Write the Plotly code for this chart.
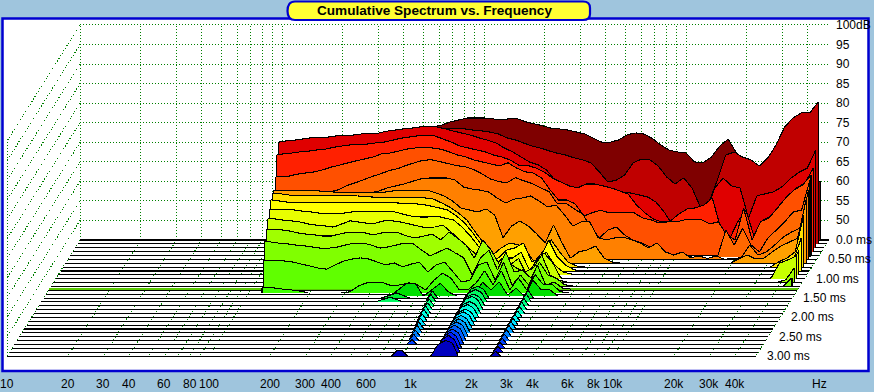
import math
import plotly.graph_objects as go

TITLE = "Cumulative Spectrum vs. Frequency"
FREQ_BINS_HZ = [100,110,121,133,147,162,178,196,215,237,261,287,316,348,383,422,464,511,562,619,681,750,825,909,
    1000,1101,1212,1334,1468,1616,1778,1957,2154,2371,2610,2873,3162,3481,3831,4217,4642,5109,5623,6190,6813,7499,8254,9085,
    10000,11007,12115,13335,14678,16156,17783,19573,21544,23714,26102,28730,31623,34807,38312,42170,46416]
FLOOR_DB = 45.0
TOP_DB = 100.0
FREQ_MIN_HZ, FREQ_MAX_HZ = 10, 51000
TIME_MAX_MS = 3.0
TICK_HZ = [10,20,30,40,60,80,100,200,300,400,600,1000,2000,3000,4000,6000,8000,10000,20000,30000,40000]
TICK_LABELS = ["10","20","30","40","60","80","100","200","300","400","600","1k","2k","3k","4k","6k","8k","10k","20k","30k","40k"]
GRID_HZ = [10,20,30,40,50,60,70,80,90,100,200,300,400,500,600,700,800,900,1000,2000,3000,4000,5000,6000,7000,8000,9000,
           10000,20000,30000,40000]
DB_TICKS = [100,95,90,85,80,75,70,65,60,55,50]
DB_LABELS = ["100dB","95","90","85","80","75","70","65","60","55","50"]
TIME_TICKS = [0.0,0.5,1.0,1.5,2.0,2.5,3.0]
TIME_LABELS = ["0.0 ms","0.50 ms","1.00 ms","1.50 ms","2.00 ms","2.50 ms","3.00 ms"]
FLOOR_ROWS_MS = [n/10 for n in range(31)]
GREEN_ROW_MS = 1.27

# Surface slices: first bin index -> levels in dB; bins not listed sit on the floor.
level_00 = {0:[67,67.3,67.5,67.8,68,68.3,68.5,68.8,69,69.3,69.6,69.9,70.2,70.6,71,71.5,72,73,73.9,74.4,75.2,75.7,76.2,76.2,76.2,76,75.7,76,76,75.2,74.7,74.2,73.6,73.4,73.1,72.6,72.1,71,70,70,70.6,71.9,72.4,72.1,71,69.3,68,67.5,67.3,65,64.7,66.2,69,70.8,67.3,60,60,60,60,60,60,60,60,60,60]}
level_01 = {0:[70,70.3,70.5,70.8,71,71.2,71.4,71.6,71.8,72,72.2,72.4,72.7,73,73.3,73.6,74,74.4,74.9,74.6,74.6,74.4,74.4,74.1,73.9,73.6,73.1,72.1,71.6,70.8,70,69.5,68.8,68.2,67.7,67,66.5,65.7,63.4,60.8,61.3,62.6,65.7,66.7,66.5,64.9,62.1,60.3,61.9,59.3,54.4,55.5,61.3,67.7,68.5,67.2,66.5,64.9,67,70.3,74.9,77.2,78.5,78.5,81.3]}
level_02 = {0:[72,72.3,72.5,72.8,73.1,73.3,73.3,73.6,73.8,73.8,74.1,74.3,74.3,74.8,75.1,75.4,75.6,75.9,75.9,75.9,75.4,74.8,74.3,73.8,73.1,72.5,71.8,70.5,69.5,68.2,66.9,66.2,64.9,62.3,59.8,58.5,58.5,59.2,58.5,58.5,59,59.2,59,58.5,58,56.7,54.1,50.8,50.8,50.8,50.8,54.6,60.3,62.8,60.8,60.3,52.6,58.3,58.8,59.3,60.6,62.7,64.3,65.4,70]}
level_03 = {0:[69.7,70,70.2,70.5,70.7,71,71.2,71.7,72,72.3,72.5,72.5,72.8,73,73.5,74,74.3,74.6,74.6,74.6,73.8,73,72,71.5,71,70.5,69.7,69.2,68.4,67.1,67.1,66.4,65.4,63.8,62.8,61.8,61.3,62.3,62.3,61.8,61.3,60.5,59.7,56.9,54.9,53.3,52.6,52.8,54.6,55.9,56.2,56.9,58.7,50.8,48,52.6,55.6,48.5,53.1,54.1,56.9,59.2,61.3,62.5,66.4]}
level_04 = {1:[65.1,65.3,65.8,66.1,66.4,66.9,67.6,68.1,68.7,69.2,69.7,70.2,71,71.2,71.7,72.2,72.5,72.7,72.5,72.2,71.5,70.7,70.2,69.4,68.9,68.4,67.9,68.7,67.4,66.4,66.1,64.8,61.8,59.2,59.2,58.2,55.1,55.9,56.6,55.9,55.9,55.9,55.9,54.6,54.1,53.3,53.6,53.6,54.1,54.3,54.1,53.1,53.6,50.2,49,57.1,49,53.6,54.6,57.1,59.7,61.8,63,65.6]}
level_05 = {2:[61.5,61.5,61.5,61.5,61.5,61.7,62.2,63.3,64,64.8,65.6,66.3,67.1,67.6,68.4,69.1,69.7,69.9,69.4,68.9,68.4,68.1,67.4,66.3,65,64.3,64,65.3,64.5,63.8,62.7,61.7,58.6,58.8,57.3,56,52.4,49.9,51.9,52.7,50.6,49.3,48.6,47.6,46.3,45.8,45.3,45.3],
            54:[51.9,48.1,52.4,48.1,46.3,49.9,51.9,54,56.5,57,64.7]}
level_06 = {2:[61.2,61.2,61.2,61.2,61.2,61.2,61.2,61.2,61.2,61.2,62,62.5,63.3,63.8,64.3,65,65.6,65.8,65.8,65.8,65.3,63.5,63,62.7,62.2,60.7,59.4,60.4,60.7,61.2,59.9,58.4,58.9,56.4,53.5,54.6,54.6,50.5,50,50.5,50.7,50,49.2,47.9,49.2,46.9,46.1,46.9,45.4,45.9,45.2,45.9,45,45.2,45.4,48.7,46.1,46.9,48.7,50.7,52,53,62.7]}
level_07 = {1:[63.7,63.7,63.6,63.5,63.5,63.5,63.3,63.2,63.2,63.2,63.2,63.2,63.2,63.2,63.5,63.5,63.7,63.7,63.7,63,62.2,60.9,59.1,58.6,58.1,58.9,57.3,51.5,54.5,55.8,54.5,52.5,50.2,54.8,50.2,46.3,47.9,48.4,49.4,46.3,45.3],
            56:[46.1,47.1,46.1,46.3,47.9,49.4,50.4,51.4,61.2]}
level_08 = {1:[63.95,63.7,63.4,63.4,63.4,63.4,63.4,63.2,63.2,63.2,63.2,63,62.9,62.9,62.9,62.9,62.9,62.9,62.7,62.4,61.4,60.3,58.8,57,53.9,51.1,48,49.8,51.1,50.8,49.3,46.3,48.9,52,48.9,46.3,45.3],
            61:[46.3,47.3,48.9,58.3]}
level_09 = {1:[63.2,62.9,62.6,62.4,62.4,62.4,62.4,62.4,62.4,62.4,62.4,62.4,62.4,62.4,62.4,62.4,62.2,62.2,62,61.6,61.1,60.6,59.1,57.3,54.7,51.6,48.3,48.3,50.4,50.9,52.2,47.3,48.3,52.9,48.6,46.5,45.3],
            63:[47.3,53.4]}
level_10 = {1:[61.8,61.6,61.6,61.6,61.3,61.1,60.8,60.8,60.8,60.8,61.1,61.1,61.1,61.1,61.1,61.1,60.5,60,59.8,59.8,60,59.5,59,57.2,54.9,52.1,48.3,47.5,49.3,49.3,50.8,46.2,48.3,50.8,47.5,45.7,45.2],
            63:[46.7,51.3]}
level_11 = {2:[60.3,60,59.8,59.5,59,58.7,58.5,58.2,59,59.8,59.5,59.2,59.2,59.8,59.8,59.5,59,58.5,58,58.2,58.7,56.9,54.9,53.1,51,51,47.7,50.2,48.5,50.2,45.7,49.3,51.6,49.3,45.2],
            61:[45.2,49,49.8,50.8]}
level_12 = {2:[58.4,58.4,58.1,57.6,57.3,57.1,56.8,56.8,57.3,57.8,57.8,57.6,57.1,57.6,57.8,57.6,56.8,56.3,56.8,57.3,55.8,57.8,56.3,54.5,51.2,55.8,53.2,49.4,50.2,48.6,47.6,48.6,52,46.8,45.6],
            63:[45.6,48.6]}
level_13 = {2:[56.2,55.9,55.7,55.4,55.2,54.9,54.6,54.6,54.9,55.4,55.9,55.9,55.4,54.6,54.9,55.4,55.9,55.7,54.1,52.6,53.6,54.6,53.4,52.1,47.7,52.1,54.1,49,53.6,48.5,49,46.9,51,47.7,46.9,45.2],
            64:[47]}
level_14 = {2:[52.4,52.4,52.2,51.9,51.4,50.9,50.4,50.1,51.2,52.2,52.7,53,52.7,51.9,51.2,51.7,50.7,51.4,51.9,49.4,51.2,51.9,49.4,46.8,47.3,51.2,51.9,47.3,51.9,46,48.6,46,51.2,46,46.8,45.3]}
level_15 = {2:[46.2,46.2,45.9,45.7,45.4],
            12:[45.2,46.7,47.5,47.7,47.5,46.7,47,47.5,47,45.7,48.2,50,48.7,45.7,45.7,47.5,50.6,47,50.6,45.7,48.8,45.7,49.6,47,47.2,45.2]}
level_16 = {18:[46.6,48.3,48.3],22:[46.6,48.3,46],28:[48.6,46.6,48.6,45.3,47],34:[49.1,46.6,46.6]}
# Front rows: (Hz, dB) points read from the narrow resonance streaks
row_150 = [(470,45),(560,46.3),(650,45),(792,45),(843,46.8),(894,45),(1209,45),(1308,47.3),(1406,48),(1504,47.3),(1603,45),(2359,45),(2510,47),(2661,45)]
row_160 = [(450,45),(535,46.2),(620,45),(799,45),(850,46.9),(901,45),(1217,45),(1316,47.4),(1415,48.2),(1514,47.4),(1613,45),(2369,45),(2520,47.1),(2671,45)]
row_170 = [(806,45),(858,46.7),(909,45),(1221,45),(1321,47.3),(1420,48),(1519,47.3),(1619,45),(2369,45),(2520,46.9),(2671,45)]
row_180 = [(813,45),(865,46.8),(917,45),(1230,45),(1330,47.6),(1430,48.4),(1530,47.6),(1630,45),(2378,45),(2530,46.9),(2682,45)]
row_190 = [(818,45),(870,47),(922,45),(1234,45),(1335,47.3),(1435,48.1),(1535,47.3),(1636,45),(2388,45),(2540,46.8),(2692,45)]
row_200 = [(825,45),(878,47.1),(931,45),(1238,45),(1339,47.5),(1440,48.3),(1541,47.5),(1642,45),(2392,45),(2545,46.7),(2698,45)]
row_210 = [(832,45),(885,46.9),(938,45),(1243,45),(1344,47.3),(1445,48.1),(1546,47.3),(1647,45),(2397,45),(2550,46.7),(2703,45)]
row_220 = [(838,45),(892,46.8),(946,45),(1247,45),(1349,47.6),(1450,48.4),(1552,47.6),(1653,45),(2406,45),(2560,46.8),(2714,45)]
row_230 = [(846,45),(900,46.8),(954,45),(1251,45),(1353,47.6),(1455,48.5),(1557,47.6),(1659,45),(2416,45),(2570,46.9),(2724,45)]
row_240 = [(854,45),(908,46.9),(962,45),(1256,45),(1358,47.7),(1460,48.6),(1562,47.7),(1664,45),(2425,45),(2580,46.9),(2735,45)]
row_250 = [(860,45),(915,46.7),(970,45),(1260,45),(1362,47.9),(1465,48.8),(1568,47.9),(1670,45),(2430,45),(2585,46.8),(2740,45)]
row_260 = [(867,45),(922,46.6),(977,45),(1264,45),(1367,48),(1470,49),(1573,48),(1676,45),(2435,45),(2590,46.7),(2745,45)]
row_270 = [(874,45),(930,46.3),(986,45),(1269,45),(1372,48),(1475,49),(1578,48),(1682,45),(2444,45),(2600,46.6),(2756,45)]
row_280 = [(1273,45),(1376,48.1),(1480,49.2),(1584,48.1),(1687,45),(2453,45),(2610,46.5),(2767,45)]
row_290 = [(1281,45),(1386,48.2),(1490,49.3),(1594,48.2),(1699,45),(2463,45),(2620,46.5),(2777,45)]
row_300 = [(800,45),(850,46.4),(900,46.5),(960,45),(1250,45),(1360,48),(1480,49),(1600,48.4),(1710,45),(2463,45),(2620,46.2),(2777,45)]

SLICES = [level_00,level_01,level_02,level_03,level_04,level_05,level_06,level_07,level_08,level_09,level_10,level_11,
          level_12,level_13,level_14,level_15,level_16,row_150,row_160,row_170,row_180,row_190,row_200,row_210,row_220,
          row_230,row_240,row_250,row_260,row_270,row_280,row_290,row_300]
SLICE_TIMES_MS = [0,.1,.2,.3,.4,.44,.5,.6,.7,.8,.9,1.0,1.09,1.18,1.27,1.36,1.45,1.5,1.6,1.7,1.8,1.9,2.0,2.1,2.2,2.3,2.4,2.5,2.6,2.7,2.8,2.9,3.0]
SLICE_COLORS = ["#7f0000","#c00000","#e00000","#ff2000","#ff5000","#ff6800","#ff8000","#ffa000","#ffe000","#ffff00","#e8ff00",
                "#c8ff00","#a0ff00","#80ff00","#60ff00","#40ff00","#00e000","#00f030","#00f860","#00ff80","#00ffa0","#00ffc0",
                "#00ffe0","#00ffff","#00e0ff","#00c0ff","#00a0ff","#0080ff","#0060ff","#0040ff","#0020ff","#0000e0","#0000c0"]
SLICE_START_HZ = [100,100,102,102.5,104,104,104,107,109,110,111,112,113,113,115,116]

GRID_GREEN = "#008000"
BLUE = "#0000d0"
SKY = "#9fc5dd"
FONT = "Liberation Sans"

# Oblique projection of (Hz, dB, ms) onto the plot's axes
SHEAR_X_PER_MS = 24.3 / 202
SHEAR_DB_PER_MS = 38.7 / 3.91

def px(hz, t=0.0):
    return math.log10(hz) - SHEAR_X_PER_MS * t

def py(db, t=0.0):
    return db - SHEAR_DB_PER_MS * t

fig = go.Figure()
dot = dict(color=GRID_GREEN, width=1, dash="1px,2px")

def seg_trace(xs, ys, line):
    fig.add_trace(go.Scatter(x=xs, y=ys, mode="lines", line=line, hoverinfo="skip", showlegend=False))

# back wall
xs, ys = [], []
for hz in GRID_HZ:
    xs += [px(hz), px(hz), None]; ys += [py(FLOOR_DB), py(TOP_DB), None]
for db in DB_TICKS + [FLOOR_DB]:
    xs += [px(FREQ_MIN_HZ), px(FREQ_MAX_HZ), None]; ys += [py(db), py(db), None]
seg_trace(xs, ys, dot)
# side wall
xs, ys = [], []
for db in DB_TICKS + [FLOOR_DB]:
    xs += [px(FREQ_MIN_HZ), px(FREQ_MIN_HZ, TIME_MAX_MS), None]; ys += [py(db), py(db, TIME_MAX_MS), None]
xs += [px(FREQ_MIN_HZ, TIME_MAX_MS), px(FREQ_MIN_HZ, TIME_MAX_MS)]; ys += [py(FLOOR_DB, TIME_MAX_MS), py(TOP_DB, TIME_MAX_MS)]
seg_trace(xs, ys, dot)
# floor
xs, ys = [], []
for hz in GRID_HZ + [FREQ_MAX_HZ]:
    xs += [px(hz), px(hz, TIME_MAX_MS), None]; ys += [py(FLOOR_DB), py(FLOOR_DB, TIME_MAX_MS), None]
xs += [px(FREQ_MIN_HZ, TIME_MAX_MS), px(FREQ_MAX_HZ, TIME_MAX_MS)]; ys += [py(FLOOR_DB, TIME_MAX_MS)] * 2
seg_trace(xs, ys, dot)

def draw_row(t, color="#000000", width=1.1):
    seg_trace([px(FREQ_MIN_HZ, t), px(FREQ_MAX_HZ, t)], [py(FLOOR_DB, t)] * 2, dict(color=color, width=width))

def slice_points(idx):
    segs = SLICES[idx]
    if isinstance(segs, list):
        return list(segs)
    nb = len(FREQ_BINS_HZ)
    lev = [FLOOR_DB] * nb
    for first, vals in segs.items():
        for j, v in enumerate(vals):
            lev[first + j] = v
    first_bin = min(segs)
    last_bin = max(f + len(v) - 1 for f, v in segs.items())
    if idx < len(SLICE_START_HZ):
        start = SLICE_START_HZ[idx]
        pts = [(start, lev[first_bin])]
        pts += [(FREQ_BINS_HZ[k], lev[k]) for k in range(first_bin, last_bin + 1) if FREQ_BINS_HZ[k] > start]
    else:
        pts = [(FREQ_BINS_HZ[first_bin - 1], FLOOR_DB)]
        pts += [(FREQ_BINS_HZ[k], lev[k]) for k in range(first_bin, last_bin + 1)]
    if last_bin < nb - 1:
        pts.append((FREQ_BINS_HZ[last_bin + 1], FLOOR_DB))
    return pts

def draw_slice(idx):
    t = SLICE_TIMES_MS[idx]; color = SLICE_COLORS[idx]
    pts = slice_points(idx)
    fx = [px(pts[0][0], t)] + [px(h, t) for h, _ in pts] + [px(pts[-1][0], t)]
    fy = [py(FLOOR_DB, t)] + [py(d, t) for _, d in pts] + [py(FLOOR_DB, t)]
    fig.add_trace(go.Scatter(x=fx, y=fy, mode="lines", fill="toself", fillcolor=color, line=dict(width=0, color=color),
                             hoverinfo="skip", showlegend=False))
    lx, ly = [], []
    seq = [(pts[0][0], FLOOR_DB)] + pts + [(pts[-1][0], FLOOR_DB)]
    for a, b in zip(seq[:-1], seq[1:]):
        if a[1] <= FLOOR_DB and b[1] <= FLOOR_DB:
            continue
        lx += [px(a[0], t), px(b[0], t), None]; ly += [py(a[1], t), py(b[1], t), None]
    seg_trace(lx, ly, dict(color="#000000", width=1.1))

items = [(r, 0, None) for r in FLOOR_ROWS_MS] + [(GREEN_ROW_MS, 0, -1)] + [(t, 1, i) for i, t in enumerate(SLICE_TIMES_MS)]
for t, kind, i in sorted(items, key=lambda z: (z[0], z[1])):
    if kind == 0 and i == -1:
        draw_row(t, color="#58c800", width=1.6)
    elif kind == 0:
        draw_row(t)
    else:
        draw_slice(i)

ann = []
def label(x, y, text, anchor="center", xshift=0, size=12):
    ann.append(dict(x=x, y=y, xref="x", yref="y", text=text, showarrow=False, xanchor=anchor, yanchor="middle", xshift=xshift,
                    font=dict(family=FONT, size=size, color="#000000")))

YBOT = 45 - (384 - 240) / 3.91
for hz, txt in zip(TICK_HZ, TICK_LABELS):
    label(px(hz, TIME_MAX_MS), YBOT, txt)
label(px(FREQ_MAX_HZ, TIME_MAX_MS), YBOT, "Hz", xshift=63)
for db, txt in zip(DB_TICKS, DB_LABELS):
    label(px(FREQ_MAX_HZ), py(db), txt, anchor="left", xshift=5)
for t, txt in zip(TIME_TICKS, TIME_LABELS):
    label(px(FREQ_MAX_HZ, t), py(FLOOR_DB, t), txt, anchor="left", xshift=5 if t == 0 else 9)

W, H = 874, 392
def pap(xp, yp):
    return f"{xp / W:.5f},{1 - yp / H:.5f}"
box_path = ("M " + pap(295, 1.5) + " L " + pap(583, 1.5) + " Q " + pap(590, 1.5) + " " + pap(590, 8) +
            " L " + pap(590, 14) + " Q " + pap(590, 20) + " " + pap(583, 20) + " L " + pap(295, 20) +
            " Q " + pap(287.5, 20) + " " + pap(287.5, 11) + " Q " + pap(287.5, 1.5) + " " + pap(295, 1.5) + " Z")
shapes = [
    dict(type="rect", xref="paper", yref="paper", layer="below", x0=2.5 / W, x1=868.5 / W, y0=1 - 371 / H, y1=1 - 18.5 / H,
         fillcolor="#ffffff", line=dict(color=BLUE, width=2.5)),
    dict(type="path", xref="paper", yref="paper", layer="above", path=box_path, fillcolor="#ffff33", line=dict(color=BLUE, width=2.2)),
]
ann.append(dict(xref="paper", yref="paper", x=434 / W, y=1 - 10.5 / H, text="<b>" + TITLE + "</b>", showarrow=False,
                xanchor="center", yanchor="middle", font=dict(family=FONT, size=13.6, color="#000000")))

fig.update_layout(width=W, height=H, margin=dict(l=0, r=0, t=0, b=0), paper_bgcolor=SKY, plot_bgcolor="rgba(0,0,0,0)",
                  showlegend=False, hovermode=False, shapes=shapes, annotations=ann,
                  xaxis=dict(visible=False, range=[1 - 80 / 202, 1 + (874 - 80) / 202], fixedrange=True),
                  yaxis=dict(visible=False, range=[45 - (392 - 240) / 3.91, 45 + 240 / 3.91], fixedrange=True))
fig.write_html("out.html", config=dict(displayModeBar=False),
               post_script="document.body.style.margin='0';document.documentElement.style.background='" + SKY + "';"
                           "document.body.style.overflow='hidden';"
                           "document.querySelectorAll('.scatterlayer path').forEach(function(p){p.style.shapeRendering='crispEdges';});")
